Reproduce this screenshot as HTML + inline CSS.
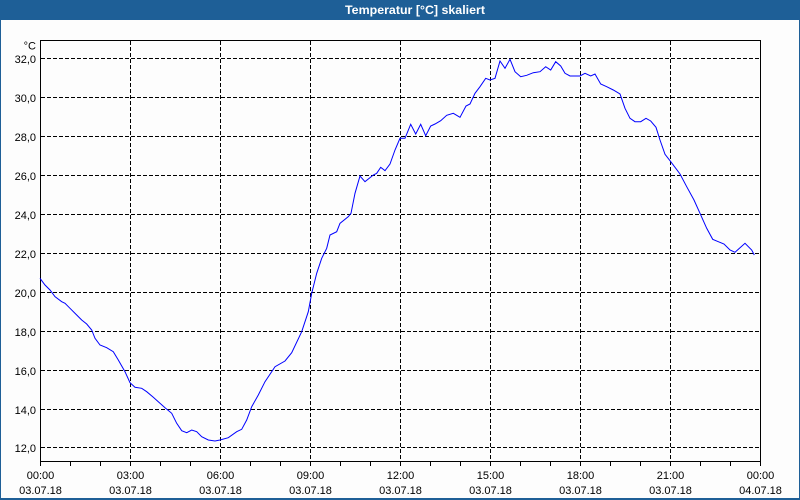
<!DOCTYPE html>
<html><head><meta charset="utf-8"><style>
html,body{margin:0;padding:0;background:#fff;}
svg{display:block;}
text{font-family:"Liberation Sans",sans-serif;}
</style></head><body>
<svg width="800" height="500" viewBox="0 0 800 500" xmlns="http://www.w3.org/2000/svg">
<rect x="0" y="0" width="800" height="500" fill="#fdfdfd"/>
<rect x="0" y="0" width="800" height="20" fill="#1e5f97"/>
<rect x="0" y="0" width="1" height="500" fill="#1e5f97"/>
<rect x="799" y="0" width="1" height="500" fill="#1e5f97"/>
<rect x="0" y="498" width="800" height="2" fill="#1e5f97"/>
<text x="415" y="14" fill="#fff" font-size="11.5" font-weight="bold" text-anchor="middle" textLength="140" lengthAdjust="spacingAndGlyphs">Temperatur [°C] skaliert</text>
<g stroke="#000" stroke-width="1" stroke-dasharray="4,2" shape-rendering="crispEdges">
<line x1="41" y1="58.5" x2="760" y2="58.5"/>
<line x1="41" y1="97.5" x2="760" y2="97.5"/>
<line x1="41" y1="136.5" x2="760" y2="136.5"/>
<line x1="41" y1="175.5" x2="760" y2="175.5"/>
<line x1="41" y1="214.5" x2="760" y2="214.5"/>
<line x1="41" y1="253.5" x2="760" y2="253.5"/>
<line x1="41" y1="292.5" x2="760" y2="292.5"/>
<line x1="41" y1="331.5" x2="760" y2="331.5"/>
<line x1="41" y1="370.5" x2="760" y2="370.5"/>
<line x1="41" y1="409.5" x2="760" y2="409.5"/>
<line x1="41" y1="447.5" x2="760" y2="447.5"/>
<line x1="130.5" y1="41" x2="130.5" y2="461"/>
<line x1="220.5" y1="41" x2="220.5" y2="461"/>
<line x1="310.5" y1="41" x2="310.5" y2="461"/>
<line x1="400.5" y1="41" x2="400.5" y2="461"/>
<line x1="490.5" y1="41" x2="490.5" y2="461"/>
<line x1="580.5" y1="41" x2="580.5" y2="461"/>
<line x1="670.5" y1="41" x2="670.5" y2="461"/>
</g>
<g stroke="#000" stroke-width="1" shape-rendering="crispEdges" fill="none">
<path d="M40.5 40.5 H760.5 V461.5 H40.5 Z"/>
<path d="M70.5 461V466 M100.5 461V466 M130.5 461V466 M160.5 461V466 M190.5 461V466 M220.5 461V466 M250.5 461V466 M280.5 461V466 M310.5 461V466 M340.5 461V466 M370.5 461V466 M400.5 461V466 M430.5 461V466 M460.5 461V466 M490.5 461V466 M520.5 461V466 M550.5 461V466 M580.5 461V466 M610.5 461V466 M640.5 461V466 M670.5 461V466 M700.5 461V466 M730.5 461V466 M760.5 461V466 M40.5 461V466"/>
</g>
<polyline fill="none" stroke="#0000ff" stroke-width="1" points="40,278.3 45,285 50,290 55,296.7 61.7,301.7 65,303.3 70,308.3 76.7,315 81.7,320 86.7,324 91.7,330 95,338.3 100,345 106.7,347.7 113.3,351.7 118.3,360 125,371.7 130,382.7 135,387.3 141.7,388.3 146.7,391.7 153.3,397.3 158.3,401.7 165,407.7 171.7,413.3 176.7,423.3 181.7,430.7 186.7,432.7 191.7,430 196.7,431.7 201.7,436.7 208.3,440 215,441 220,440 228.3,437.7 236.7,431.7 241.7,429.3 246.7,420 251.7,406.7 258.3,395 265,381.7 275,366.7 285,361 291.7,352.7 301.7,331.7 308.3,311.7 311.7,293.3 316.7,273.3 321.7,258.3 326.7,248.3 330,235 336.7,231.7 340,223.3 348.3,216.7 351,213.3 355,193.3 360,176 365,181.7 373.3,175 376.7,173.3 380.7,167.3 385,170.7 390,164 395,150 400,138.3 405,138.3 410.7,124.3 415.7,134 420.7,124.3 425.7,135.7 430.7,126 435,124 440.7,120.7 446.7,115.3 453.3,113.3 460,117.3 466,106 470,104 475,93.3 480,86.7 485.7,78.3 490,80 495,78.3 500,61 505,68.3 510,59.3 515,71.7 520.7,76.7 526.7,75.3 533.3,72.7 540,71.7 545.7,66.7 550.7,70 555.7,61.7 560.7,66 565,73.3 570,76 580,76 585,73.3 590.7,76 595,74 600.7,84 606.7,86.7 613.3,90 620,94 625,108.3 630,118.3 635,121.7 640.7,121.7 646,118.3 650.7,121 656,127.3 660,140 665,154.3 670,160.7 675,167.3 680,174 686.7,186.7 694,200 700,213.3 706.7,228.3 712.7,239.3 718.3,241.7 724,244 730,250 735,252.3 745,243.3 751.7,250 754.3,255"/>
<g font-size="11" fill="#000" text-anchor="end">
<text x="36" y="49.5">°C</text>
<text x="36" y="63">32,0</text>
<text x="36" y="102">30,0</text>
<text x="36" y="141">28,0</text>
<text x="36" y="180">26,0</text>
<text x="36" y="219">24,0</text>
<text x="36" y="258">22,0</text>
<text x="36" y="297">20,0</text>
<text x="36" y="336">18,0</text>
<text x="36" y="375">16,0</text>
<text x="36" y="414">14,0</text>
<text x="36" y="452">12,0</text>
</g>
<g font-size="11" fill="#000" text-anchor="middle">
<text x="40.5" y="479">00:00</text><text x="40.5" y="494">03.07.18</text>
<text x="130.5" y="479">03:00</text><text x="130.5" y="494">03.07.18</text>
<text x="220.5" y="479">06:00</text><text x="220.5" y="494">03.07.18</text>
<text x="310.5" y="479">09:00</text><text x="310.5" y="494">03.07.18</text>
<text x="400.5" y="479">12:00</text><text x="400.5" y="494">03.07.18</text>
<text x="490.5" y="479">15:00</text><text x="490.5" y="494">03.07.18</text>
<text x="580.5" y="479">18:00</text><text x="580.5" y="494">03.07.18</text>
<text x="670.5" y="479">21:00</text><text x="670.5" y="494">03.07.18</text>
<text x="760.5" y="479">00:00</text><text x="760.5" y="494">04.07.18</text>
</g>
</svg>
</body></html>
